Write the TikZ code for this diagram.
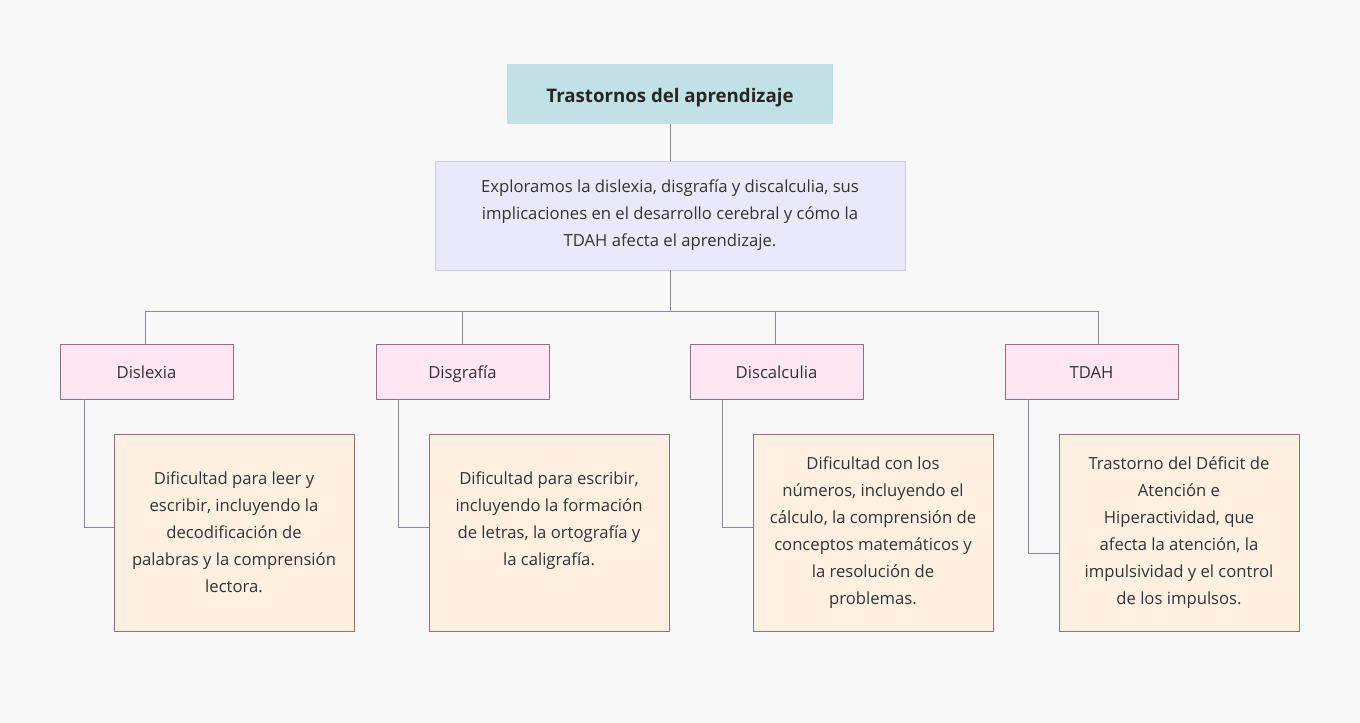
\documentclass[tikz,border=0pt]{standalone}
\usepackage{fontspec}
\setmainfont{Open Sans}
\definecolor{bgcol}{HTML}{F8F8F8}
\definecolor{titlefill}{HTML}{C2E1E6}
\definecolor{sumfill}{HTML}{EAE8FB}
\definecolor{sumline}{HTML}{CBC8F2}
\definecolor{catfill}{HTML}{FFE6F0}
\definecolor{boxline}{HTML}{9C6B7E}
\definecolor{detfill}{HTML}{FFF0E1}
\definecolor{wire}{HTML}{8A8A9E}
\definecolor{inkcol}{HTML}{333333}

\begin{document}
\begin{tikzpicture}[x=0.75pt, y=-0.75pt,
  titlebox/.style={rectangle, fill=titlefill, minimum width=244.5pt, minimum height=45pt, align=center, text height=13.2pt, text depth=0pt, font=\fontsize{14}{17}\selectfont\bfseries, text=black!85},
  sumbox/.style={rectangle, draw=sumline, fill=sumfill, minimum width=352.5pt, minimum height=81.75pt, align=center, font=\fontsize{12.5}{20.25}\selectfont, text=inkcol},
  catbox/.style={rectangle, draw=boxline, fill=catfill, minimum width=129.75pt, minimum height=41.25pt, align=center, text height=10pt, text depth=0pt, font=\fontsize{12.5}{20.25}\selectfont, text=inkcol},
  detbox/.style={rectangle, draw=boxline, fill=detfill, minimum width=180pt, minimum height=147.75pt, align=center, font=\fontsize{12.5}{20.25}\selectfont, text=inkcol},
  wireline/.style={draw=wire, line width=0.75pt}]
  % background
  \fill[bgcol] (0,0) rectangle (1360,723);
  \useasboundingbox (0,0) rectangle (1360,723);

    \node[titlebox] (title) at (670,94) {Trastornos del aprendizaje};
    \node[sumbox] (sum) at (670,215.5) {Exploramos la dislexia, disgrafía y discalculia, sus\\implicaciones en el desarrollo cerebral y cómo la\\TDAH afecta el aprendizaje.};

    \node[catbox] (c1) at (146.5,371.5) {Dislexia};
    \node[catbox] (c2) at (462.5,371.5) {Disgrafía};
    \node[catbox] (c3) at (776.5,371.5) {Discalculia};
    \node[catbox] (c4) at (1091.5,371.5) {TDAH};

    \node[detbox] (d1) at (234,532.5) {Dificultad para leer y\\escribir, incluyendo la\\decodificación de\\palabras y la comprensión\\lectora.};
    \node[detbox] (d2) at (549,532.5) {Dificultad para escribir,\\incluyendo la formación\\de letras, la ortografía y\\la caligrafía.\\\mbox{}};
    \node[detbox] (d3) at (873,532.5) {Dificultad con los\\números, incluyendo el\\cálculo, la comprensión de\\conceptos matemáticos y\\la resolución de\\problemas.};
    \node[detbox] (d4) at (1179,532.5) {Trastorno del Déficit de\\Atención e\\Hiperactividad, que\\afecta la atención, la\\impulsividad y el control\\de los impulsos.};

    \coordinate (bus) at (670,312);

    \draw[wireline] (title) -- (sum);
    \draw[wireline] (sum) -- (bus);
    \draw[wireline] (bus) -| ([xshift=-1.1pt]c1.north);
    \draw[wireline] (bus) -| (c2.north);
    \draw[wireline] (bus) -| ([xshift=-1.1pt]c3.north);
    \draw[wireline] (bus) -| ([xshift=5.6pt]c4.north);

    \draw[wireline] ([xshift=18.75pt]c1.south west) |- ([yshift=4.1pt]d1.west);
    \draw[wireline] ([xshift=17.25pt]c2.south west) |- ([yshift=4.1pt]d2.west);
    \draw[wireline] ([xshift=24.75pt]c3.south west) |- ([yshift=4.1pt]d3.west);
    \draw[wireline] ([xshift=18pt]c4.south west) |- ([yshift=-15.4pt]d4.west);
\end{tikzpicture}
\end{document}
